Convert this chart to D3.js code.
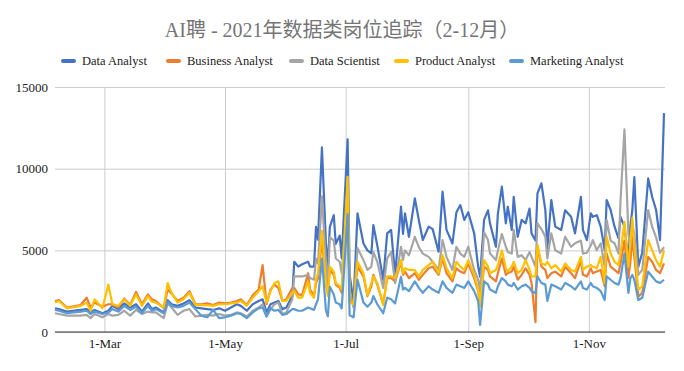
<!DOCTYPE html>
<meta charset="utf-8">
<style>
  body {margin:0; background:#fff;}
  svg {font-family: 'Liberation Serif', 'Noto Sans CJK SC', serif;}
</style>
<svg width="684" height="371"></svg>
<script src="https://d3js.org/d3.v7.min.js"></script>
<script>

var dates = [
  "2021-02-04","2021-02-06","2021-02-10","2021-02-17","2021-02-20","2021-02-22","2021-02-24","2021-02-28",
  "2021-03-03","2021-03-05","2021-03-08","2021-03-11","2021-03-14","2021-03-17","2021-03-20","2021-03-23","2021-03-25","2021-03-27","2021-03-31",
  "2021-04-02","2021-04-04","2021-04-07","2021-04-10","2021-04-13","2021-04-16","2021-04-19","2021-04-22","2021-04-25","2021-04-28",
  "2021-05-01","2021-05-04","2021-05-07","2021-05-09","2021-05-12","2021-05-15","2021-05-18","2021-05-20","2021-05-22","2021-05-24","2021-05-26","2021-05-28","2021-05-30",
  "2021-06-01","2021-06-04","2021-06-05","2021-06-07","2021-06-09","2021-06-12","2021-06-13","2021-06-15","2021-06-16","2021-06-17","2021-06-19","2021-06-21","2021-06-22","2021-06-23","2021-06-25","2021-06-26","2021-06-28","2021-06-29",
  "2021-07-02","2021-07-03","2021-07-05","2021-07-07","2021-07-10","2021-07-12","2021-07-14","2021-07-15","2021-07-17","2021-07-20","2021-07-22","2021-07-24","2021-07-26","2021-07-29","2021-07-30","2021-07-31",
  "2021-08-02","2021-08-05","2021-08-07","2021-08-09","2021-08-12","2021-08-14","2021-08-17","2021-08-19","2021-08-21","2021-08-24","2021-08-26","2021-08-28","2021-08-30",
  "2021-09-01","2021-09-04","2021-09-06","2021-09-07","2021-09-09","2021-09-11","2021-09-12","2021-09-15","2021-09-16","2021-09-18","2021-09-20","2021-09-21","2021-09-23","2021-09-24","2021-09-26","2021-09-28","2021-09-30",
  "2021-10-02","2021-10-03","2021-10-05","2021-10-06","2021-10-08","2021-10-10","2021-10-11","2021-10-13","2021-10-15","2021-10-18","2021-10-20","2021-10-23","2021-10-25","2021-10-28","2021-10-29","2021-10-31",
  "2021-11-02","2021-11-03","2021-11-05","2021-11-07","2021-11-09","2021-11-10","2021-11-12","2021-11-14","2021-11-16","2021-11-17","2021-11-19","2021-11-21","2021-11-22","2021-11-23","2021-11-24","2021-11-26","2021-11-28",
  "2021-12-01","2021-12-03","2021-12-05","2021-12-07","2021-12-09"
];

var dataAnalyst = [
  1450,1400,1250,1350,1400,1200,1350,1150,
  1300,1600,1400,1750,1500,1700,1250,1750,1400,1500,1200,
  1950,1700,1600,1750,1950,1500,1450,1400,1350,1450,
  1300,1500,1700,1600,1300,1700,1900,2000,1200,1700,1800,1900,1400,
  1500,2200,4300,4000,4150,4300,4000,4000,6440,5650,11300,5500,4000,6440,7150,5400,5900,4500,
  11800,3500,1850,7260,5420,5000,4810,6550,5300,3200,6040,6250,3500,7670,6000,7260,
  5830,8180,6860,5630,6450,6300,4920,8590,6250,5420,7330,7770,6860,
  7330,6040,4000,3380,6860,7450,6650,5220,7260,8900,6650,7670,6250,8280,5830,6860,6650,
  7560,6040,5600,8490,9100,7450,5100,8080,6450,6250,7450,7050,6040,8280,6250,5630,
  7260,7050,7150,6450,5000,8080,7470,6450,5730,7050,6450,4400,6500,7500,9490,4000,4850,
  9400,8280,7470,5630,13400
];

var businessAnalyst = [
  1900,1950,1500,1650,2100,1500,1800,1550,
  1700,1700,1500,2050,1650,2450,1700,2300,2000,1900,1450,
  2600,2350,1900,2100,2500,1700,1700,1750,1650,1800,
  1750,1800,1900,2000,1650,2250,2600,4100,1700,2600,2900,2700,1900,
  2000,2700,2700,2300,2260,3600,2600,2200,3000,3300,5600,3100,2300,3800,3500,2900,2700,2400,
  8500,1900,1700,4000,3400,2200,2800,3500,2900,1700,3300,3300,3100,4300,3500,3700,
  3300,3600,3200,3500,3900,4000,3500,4500,3600,3100,3900,3700,3600,
  4200,3300,2500,1700,4000,3800,3400,3100,3600,4500,3500,3600,3700,4000,3200,3500,3900,
  3500,3000,600,5300,4000,3800,3300,3600,3700,3400,4000,3600,3300,4400,3500,3400,
  3900,3600,3700,3800,2800,4800,4000,3800,3600,4200,5600,3300,4300,5800,4600,2160,2400,
  4600,4300,3800,3600,4200
];

var dataScientist = [
  1150,1100,1000,1000,1050,850,1100,900,
  1100,1000,1050,1300,1000,1350,1100,1250,1200,1200,850,
  1750,1500,1050,1300,1400,950,1000,1050,1000,1100,
  1000,1050,1200,1150,950,1300,1500,1700,950,1400,1700,1800,1100,
  1200,2000,3400,3400,3400,3500,3300,3200,4500,4200,8300,4300,3000,5800,5600,4500,4300,3600,
  8000,2500,1500,5150,4400,3800,4000,4900,4300,2700,4500,4900,3000,5220,4400,5000,
  4700,5830,5200,4800,4600,4300,3800,5630,4600,3800,5220,4800,4600,
  5220,3800,3200,2500,6100,5630,4800,4400,5000,6000,5220,4900,4800,6250,4600,4700,4400,
  4900,4600,4000,6650,6300,5830,4500,6040,5000,4800,5830,5220,5430,5600,4800,4850,
  5300,5630,5000,5430,4000,6860,5600,5430,4800,8000,12400,6000,5200,6500,6000,3500,3800,
  7470,6450,5800,4850,5200
];

var productAnalyst = [
  1800,1900,1450,1600,1800,1300,2000,1450,
  2900,1700,1600,2000,1600,2300,1600,2200,1850,1800,1500,
  3000,2400,1800,2000,2400,1650,1650,1650,1600,1700,
  1700,1750,1800,1900,1600,2100,2500,2800,1800,2500,3000,3100,1900,
  1900,2400,2500,2100,2100,3100,2400,2100,3200,3600,6200,3000,2200,4000,3700,3000,2800,2600,
  9500,1850,1700,4300,3590,2260,3000,3400,3000,1650,3400,3400,3300,4400,3600,3900,
  3800,3790,3400,3800,4100,4300,3600,4710,3900,3300,4300,4000,3800,
  4400,3500,2600,1550,4400,4000,3600,3800,4100,5000,3900,3700,4000,4300,3600,3800,4400,
  3800,3400,3400,5300,4200,4100,4300,3900,4100,3700,4200,3800,3700,4600,3800,4000,
  4100,4000,3900,4600,3000,5830,4800,4300,4100,4800,6750,4000,5500,7000,5200,2600,2800,
  5630,5000,4400,4000,5000
];

var marketingAnalyst = [
  1350,1300,1150,1250,1300,1100,1250,1100,
  1200,1400,1250,1600,1350,1550,1150,1600,1300,1400,1150,
  1850,1600,1500,1600,1800,1400,1000,900,1350,850,
  900,1000,1150,1100,850,1200,1450,1500,950,1450,1300,1350,1050,
  1100,1400,1400,1300,1300,1500,1450,1350,1700,2000,4500,1350,950,2770,2300,1800,1700,1440,
  7200,1030,900,3200,1800,1550,1800,2200,1700,1150,2100,2000,1750,3380,2600,2700,
  2500,3100,2700,2400,2800,2600,2400,3100,2700,2400,2900,2800,2700,
  3100,2500,1900,430,3100,2900,2600,2400,2800,3300,3100,2900,2800,3000,2600,2800,2900,
  2700,2500,2370,3400,3000,2900,1900,2900,2800,2600,3000,2800,2600,3100,2700,2600,
  3000,2800,2700,2500,1960,3400,3200,3000,2900,3300,4800,2400,3300,3500,3200,1960,2100,
  3700,3400,3100,3000,3200
];

var seriesNames = ["Data Analyst", "Business Analyst", "Data Scientist", "Product Analyst", "Marketing Analyst"];
var seriesValues = [dataAnalyst, businessAnalyst, dataScientist, productAnalyst, marketingAnalyst];
var colors = ["#4472C4", "#ED7D31", "#A5A5A5", "#FFC000", "#5B9BD5"];
var yTicks = [0, 5000, 10000, 15000];
var xTicks = ["2021-03-01", "2021-05-01", "2021-07-01", "2021-09-01", "2021-11-01"];

var svg = d3.select("svg"),
    width = +svg.attr("width"),
    height = +svg.attr("height");

var plotLeft = 55, plotRight = 665, plotTop = 87, plotBottom = 332;
var parse = d3.timeParse("%Y-%m-%d");
var days = dates.map(parse);

var x = d3.scaleTime()
    .domain([days[0], days[days.length - 1]])
    .range([plotLeft, plotRight - 1]);
var y = d3.scaleLinear()
    .domain([0, 15000])
    .range([plotBottom, plotTop]);

// title
svg.append("text")
    .attr("x", width / 2)
    .attr("y", 37)
    .attr("text-anchor", "middle")
    .style("font-size", "20px")
    .style("fill", "#757575")
    .text("AI聘 - 2021年数据类岗位追踪（2-12月）");

// legend
var legendX = [63, 168, 291, 396, 511];
var legend = svg.append("g").selectAll("g")
    .data(seriesNames)
    .enter().append("g")
    .attr("transform", function(d, i) { return "translate(" + legendX[i] + ",61)"; });
legend.append("line")
    .attr("x1", 0).attr("x2", 11)
    .attr("stroke", function(d, i) { return colors[i]; })
    .attr("stroke-width", 4)
    .attr("stroke-linecap", "round");
legend.append("text")
    .attr("x", 19)
    .attr("y", 4)
    .style("font-size", "12.5px")
    .style("fill", "#222")
    .text(function(d) { return d; });

// y grid + labels
var yAxis = svg.append("g")
    .attr("transform", "translate(" + plotLeft + ",0)")
    .call(d3.axisLeft(y).tickValues(yTicks).tickFormat(d3.format("d"))
      .tickSize(-(plotRight - plotLeft)).tickPadding(7));
yAxis.select(".domain").remove();
yAxis.selectAll("line").attr("stroke", "#cccccc");
yAxis.selectAll("text").style("font-size", "13px").style("fill", "#222")
    .style("font-family", "'Liberation Serif', serif");

// x grid + labels
var xAxis = svg.append("g")
    .attr("transform", "translate(0," + plotBottom + ")")
    .call(d3.axisBottom(x).tickValues(xTicks.map(parse))
      .tickFormat(d3.timeFormat("%-d-%b"))
      .tickSize(-(plotBottom - plotTop)).tickPadding(7));
xAxis.select(".domain").remove();
xAxis.selectAll("line").attr("stroke", "#cccccc");
xAxis.selectAll("text").style("font-size", "13px").style("fill", "#222")
    .style("font-family", "'Liberation Serif', serif");

// baseline
svg.append("line")
    .attr("x1", plotLeft).attr("x2", plotRight)
    .attr("y1", y(0)).attr("y2", y(0))
    .attr("stroke", "#333")
    .attr("stroke-width", 1);

var line = d3.line()
    .x(function(d, i) { return x(days[i]); })
    .y(function(d) { return y(d); });

svg.append("g").selectAll("path")
    .data(seriesValues)
    .enter().append("path")
    .attr("d", line)
    .attr("fill", "none")
    .attr("stroke", function(d, i) { return colors[i]; })
    .attr("stroke-width", 2.2)
    .attr("stroke-linejoin", "round");

</script>
